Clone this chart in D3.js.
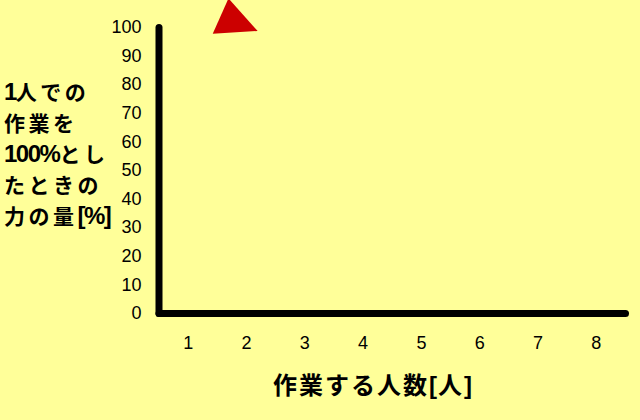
<!DOCTYPE html>
<html>
<head>
<meta charset="utf-8">
<script src="https://cdn.jsdelivr.net/npm/d3@7"></script>
<style>
  body { margin: 0; background: #ffff99; }
  svg { display: block; }
  .axis text { font-family: "Liberation Sans", Arial, sans-serif; font-size: 18px; fill: #000; }
  .title { font-family: "Noto Sans CJK JP", sans-serif; font-weight: bold; fill: #000; }
  .latin { font-family: "Liberation Sans", Arial, sans-serif; font-weight: bold; }
</style>
</head>
<body>
<svg class="plot" width="640" height="420"></svg>
<script>
// categories on x (number of workers) and y ticks
var workers = [1, 2, 3, 4, 5, 6, 7, 8];
var yTicks = [0, 10, 20, 30, 40, 50, 60, 70, 80, 90, 100];

// red marker near the top, corners in data units
var markerX = [1.70, 1.43, 2.20];
var markerY = [110.0, 97.6, 98.6];

var yTitleLines = ["1人での", "作業を", "100%とし", "たときの", "力の量[%]"];
var xTitle = "作業する人数[人]";

var svg = d3.select(".plot");

svg.append("rect")
    .attr("width", 640)
    .attr("height", 420)
    .attr("fill", "#ffff99");

//scales
var x = d3.scaleLinear().domain([0.5, 8.5]).range([158.5, 625]),
    y = d3.scaleLinear().domain([0, 100]).range([313, 27]);

// marker first so the axes sit on top
svg.append("path")
    .datum(d3.range(markerX.length))
    .attr("d", d3.line()
        .x(function(i) { return x(markerX[i]); })
        .y(function(i) { return y(markerY[i]); })
        .curve(d3.curveLinearClosed))
    .attr("fill", "#cc0000");

//axes
svg.append("g")
    .attr("class", "axis axis--y")
    .attr("transform", "translate(" + x(0.5) + ",0)")
    .call(d3.axisLeft(y).tickValues(yTicks).tickSize(0).tickSizeOuter(0).tickPadding(17));

svg.append("g")
    .attr("class", "axis axis--x")
    .attr("transform", "translate(0," + y(0) + ")")
    .call(d3.axisBottom(x).tickValues(workers).tickSize(0).tickSizeOuter(0).tickPadding(23));

svg.selectAll(".axis .domain")
    .attr("stroke", "#000")
    .attr("stroke-width", 7)
    .attr("stroke-linecap", "round");

// split a title into runs of ascii / japanese so digits can use a narrower face
function runs(s) {
  return s.match(/[\x20-\x7e]+|[^\x20-\x7e]+/g);
}
function isLatin(d) { return /^[\x20-\x7e]/.test(d); }

function fillTitle(text, s, spacing, latinSize, latinSpacing) {
  text.selectAll("tspan")
      .data(runs(s))
      .enter()
      .append("tspan")
      .attr("class", function(d) { return isLatin(d) ? "latin" : null; })
      .style("font-size", function(d) { return isLatin(d) ? latinSize + "px" : null; })
      .style("letter-spacing", function(d) { return (isLatin(d) ? latinSpacing : spacing) + "px"; })
      .text(function(d) { return d; });
}

//titles
svg.selectAll(".ytitle")
    .data(yTitleLines)
    .enter()
    .append("text")
    .attr("class", "title ytitle")
    .style("font-size", "21px")
    .attr("x", 4)
    .attr("y", function(d, i) { return 92.5 + i * 31; })
    .attr("dy", "0.36em")
    .each(function(d) { fillTitle(d3.select(this), d, 3.5, 24, -1.5); });

svg.append("text")
    .attr("class", "title")
    .style("font-size", "24px")
    .attr("x", 373)
    .attr("y", 385)
    .attr("dy", "0.36em")
    .attr("text-anchor", "middle")
    .call(fillTitle, xTitle, 2, 24, 1);
</script>
</body>
</html>
